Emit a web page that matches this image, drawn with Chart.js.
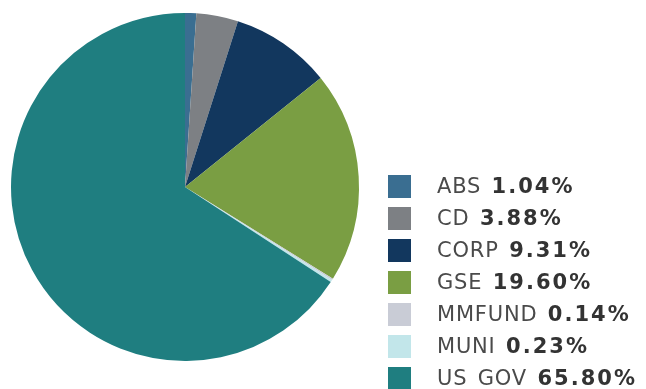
<!DOCTYPE html>
<html>
<head>
<meta charset="utf-8">
<script src="https://cdn.jsdelivr.net/npm/chart.js@4"></script>
<style>
  body { margin: 0; background: #fff; }
  #wrap { position: relative; width: 646px; height: 389px; }
  #legend { position: absolute; left: 388px; top: 175px; font-family: "DejaVu Sans", Verdana, sans-serif; font-size: 21px; }
  .row { position: relative; height: 32px; white-space: nowrap; }
  .box { position: absolute; left: 0; top: 0; width: 23px; height: 23px; }
  .txt { position: absolute; left: 49px; top: -1px; line-height: 25px; color: #4a4a4a; letter-spacing: 0.8px; word-spacing: 3px; }
  .txt b { color: #333; letter-spacing: 2px; }
</style>
</head>
<body>
<div id="wrap">
  <canvas id="myChart" width="646" height="389"></canvas>
  <div id="legend"></div>
</div>
<script>
const labels = ['ABS', 'CD', 'CORP', 'GSE', 'MMFUND', 'MUNI', 'US GOV'];
const shares = [1.04, 3.88, 9.31, 19.60, 0.14, 0.23, 65.80];
const colors = ['#3a6e91', '#7d8084', '#12375e', '#7a9e43', '#c9ccd6', '#c2e6ea', '#1f7e80'];

const ctx = document.getElementById('myChart').getContext('2d');

const myChart = new Chart(ctx, {
    type: 'pie',
    data: {
        labels: labels,
        datasets: [{
            data: shares,
            backgroundColor: colors,
            borderWidth: 0
        }]
    },
    options: {
        responsive: false,
        animation: false,
        layout: {
            padding: {left: 11, right: 287, top: 13, bottom: 28}
        },
        plugins: {
            legend: {display: false},
            tooltip: {enabled: false}
        }
    }
});

// legend on the right, label in regular weight and share in bold
const legend = document.getElementById('legend');
labels.forEach((name, i) => {
    const row = document.createElement('div');
    row.className = 'row';
    row.innerHTML = '<div class="box" style="background:' + colors[i] + '"></div>' +
        '<div class="txt">' + name + ' <b>' + shares[i].toFixed(2) + '%</b></div>';
    legend.appendChild(row);
});
</script>
</body>
</html>
